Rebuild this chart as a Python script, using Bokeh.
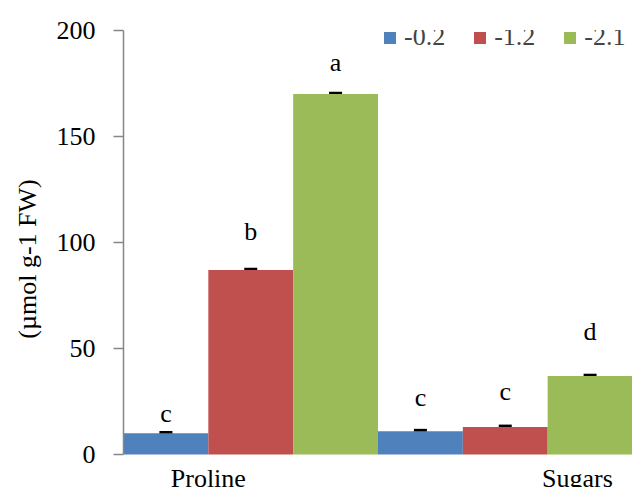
from bokeh.plotting import figure
from bokeh.models import (ColumnDataSource, Range1d, Whisker, Legend, LegendItem,
                          FixedTicker, TeeHead)
from bokeh.embed import file_html
from bokeh.resources import INLINE
from bokeh.core.properties import value

# ---- data ----
groups = ["Proline", "Sugars"]
series = ["-0.2", "-1.2", "-2.1"]
colors = ["#4F81BD", "#C0504D", "#9BBB59"]
proline = [10, 87, 170]
sugars = [11, 13, 37]
proline_err = [0.4, 0.4, 0.4]
sugars_err = [0.4, 0.4, 0.4]
proline_letters = ["c", "b", "a"]
sugars_letters = ["c", "c", "d"]
# baseline heights (axis units) of the significance letters
proline_letter_y = [19.2, 105, 184.8]
sugars_letter_y = [27.1, 29.5, 58.2]
y_ticks = [0, 50, 100, 150, 200]
y_max = 200
group_label_x = [0.5, 4.85]

FONT = "Liberation Serif"
FS = "26px"

W, H = 632, 487
TOP, LEFT = 30, 123
AXIS_PX = 424          # pixel height of the 0..200 axis
BELOW_PX = H - TOP - AXIS_PX
y_start = -y_max * BELOW_PX / AXIS_PX

values = [proline, sugars]
errs = [proline_err, sugars_err]
letters = [proline_letters, sugars_letters]
letter_y = [proline_letter_y, sugars_letter_y]

p = figure(width=W, height=H, output_backend="svg", toolbar_location=None,
           x_range=Range1d(-0.5, 5.5), y_range=Range1d(y_start, y_max),
           min_border_left=LEFT, min_border_right=0, min_border_top=TOP,
           min_border_bottom=0)
p.outline_line_color = None
p.grid.visible = False
p.xaxis.visible = False

renderers = []
for j, s in enumerate(series):
    xs = [g * 3 + j for g in range(len(groups))]
    ys = [values[g][j] for g in range(len(groups))]
    src = ColumnDataSource(dict(x=xs, top=ys))
    r = p.vbar(x="x", top="top", bottom=0, width=1.0, source=src,
               fill_color=colors[j], line_color=None)
    renderers.append(r)

# error bars and letters
ex, eu, el, tx, ty, tt = [], [], [], [], [], []
for g in range(len(groups)):
    for j in range(len(series)):
        x = g * 3 + j
        v = values[g][j]
        e = errs[g][j]
        ex.append(x); eu.append(v + e); el.append(v - e)
        tx.append(x); ty.append(letter_y[g][j]); tt.append(letters[g][j])
esrc = ColumnDataSource(dict(x=ex, upper=eu, lower=el))
w = Whisker(base="x", upper="upper", lower="lower", source=esrc,
            line_color="black", line_width=2,
            upper_head=TeeHead(size=13, line_width=3, line_color="black"),
            lower_head=TeeHead(size=13, line_width=1, line_color="black"))
p.add_layout(w)

tsrc = ColumnDataSource(dict(x=tx, y=ty, t=tt))
p.text(x="x", y="y", text="t", source=tsrc, text_font=value(FONT),
       text_font_size=FS, text_align="center", text_baseline="alphabetic",
       text_color="black")

# category labels just below the bars
csrc = ColumnDataSource(dict(x=group_label_x, y=[y_start * 0.3] * len(groups), t=groups))
p.text(x="x", y="y", text="t", source=csrc, text_font=value(FONT),
       text_font_size=FS, text_align="center", text_baseline="top",
       text_color="black")

# y axis
ax = p.yaxis[0]
ax.bounds = (0, y_max)
ax.ticker = FixedTicker(ticks=y_ticks)
ax.axis_line_color = "#868686"
ax.axis_line_width = 1.5
ax.major_tick_line_color = "#868686"
ax.major_tick_line_width = 1.5
ax.major_tick_out = 10
ax.major_tick_in = 0
ax.minor_tick_line_color = None
ax.major_label_text_font = FONT
ax.major_label_text_font_size = FS
ax.major_label_text_color = "black"
ax.major_label_standoff = 18
ax.axis_label = "(µmol g-1 FW)"
ax.axis_label_text_font = FONT
ax.axis_label_text_font_size = FS
ax.axis_label_text_font_style = "normal"
ax.axis_label_text_color = "black"
ax.axis_label_standoff = 12

legend = Legend(items=[LegendItem(label=s, renderers=[r]) for s, r in zip(series, renderers)],
                orientation="horizontal", location=(259, 435),
                glyph_width=15, glyph_height=15, label_standoff=7, spacing=27,
                padding=0, margin=0, border_line_color=None,
                background_fill_alpha=0, label_text_font=FONT,
                label_text_font_size=FS)
p.add_layout(legend)

open("out.html", "w").write(file_html(p, INLINE))
